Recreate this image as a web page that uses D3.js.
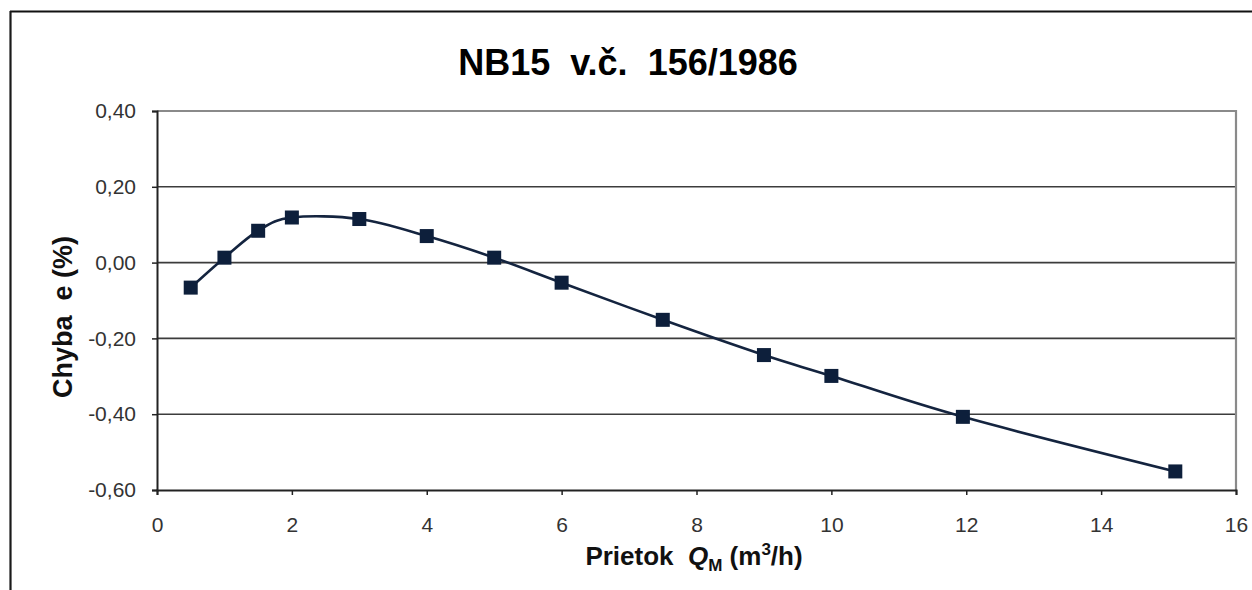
<!DOCTYPE html>
<html lang="sk">
<head>
<meta charset="UTF-8">
<title>NB15 v.č. 156/1986</title>
<script src="https://cdn.jsdelivr.net/npm/d3@7/dist/d3.min.js"></script>
<style>
  body { margin: 0; background: #fff; }
  svg { display: block; font-family: "Liberation Sans", Arial, sans-serif; }
</style>
</head>
<body>
<svg id="graf" width="1252" height="590"></svg>
<script>
    // namerane hodnoty
    let prietok = [0.5, 1.0, 1.5, 2.0, 3.0, 4.0, 5.0, 6.0, 7.5, 9.0, 10.0, 11.95, 15.1];
    let chyba = [-0.066, 0.013, 0.084, 0.119, 0.115, 0.070, 0.013, -0.053, -0.151, -0.244, -0.299, -0.407, -0.551];
    let xTicky = [0, 2, 4, 6, 8, 10, 12, 14, 16];
    let yTicky = [-0.6, -0.4, -0.2, 0, 0.2, 0.4];

    let body = prietok.map((q, i) => ({q: q, e: chyba[i]}));

    let svg = d3.select('#graf');
    let x = d3.scaleLinear().domain([0, 16]).range([157, 1236]);
    let y = d3.scaleLinear().domain([-0.6, 0.4]).range([490, 111]);

    let sk = d3.formatLocale({decimal: ",", thousands: " ", grouping: [3], currency: ["", ""], minus: "-"});
    let fmt = sk.format(".2f");

    // ramik okolo celeho grafu
    svg.append('line').attr('x1', 10).attr('y1', 11.5).attr('x2', 1252).attr('y2', 11.5)
        .attr('stroke', '#111').attr('stroke-width', 2);
    svg.append('line').attr('x1', 10.5).attr('y1', 11).attr('x2', 10.5).attr('y2', 590)
        .attr('stroke', '#1a1a1a').attr('stroke-width', 2.2);

    // mriezka
    svg.append('g').selectAll('line').data(yTicky.filter(d => d > -0.6 && d < 0.4)).enter()
        .append('line')
        .attr('x1', x(0)).attr('x2', x(16))
        .attr('y1', d => y(d)).attr('y2', d => y(d))
        .attr('stroke', '#3c3c3c').attr('stroke-width', 1.6);

    // okraj plochy grafu
    svg.append('path')
        .attr('d', 'M' + x(0) + ',' + y(0.4) + 'H' + x(16) + 'V' + y(-0.6))
        .attr('fill', 'none').attr('stroke', '#8a8a8a').attr('stroke-width', 2.2);

    // osi
    let osY = svg.append('g').attr('transform', 'translate(' + x(0) + ',0)')
        .call(d3.axisLeft(y).tickValues(yTicky).tickFormat(fmt).tickSize(5).tickPadding(16));
    let osX = svg.append('g').attr('transform', 'translate(0,' + y(-0.6) + ')')
        .call(d3.axisBottom(x).tickValues(xTicky).tickSize(5).tickPadding(22));
    [osY, osX].forEach(g => {
        g.select('.domain').attr('stroke', '#222').attr('stroke-width', 2);
        g.selectAll('.tick line').attr('stroke', '#222').attr('stroke-width', 1.5);
        g.selectAll('.tick text').attr('fill', '#333')
            .style('font-size', '21px').style('font-family', '"Liberation Sans", Arial, sans-serif');
    });

    // krivka
    let ciara = d3.line().x(d => x(d.q)).y(d => y(d.e)).curve(d3.curveCatmullRom.alpha(0));
    svg.append('path').datum(body)
        .attr('d', ciara)
        .attr('fill', 'none').attr('stroke', '#14243f').attr('stroke-width', 2.6);

    let s = 14;
    svg.append('g').selectAll('rect').data(body).enter()
        .append('rect')
        .attr('x', d => x(d.q) - s / 2)
        .attr('y', d => y(d.e) - s / 2)
        .attr('width', s).attr('height', s)
        .attr('fill', '#0d1f3b');

    // nadpis
    svg.append('text')
        .attr('x', 628).attr('y', 75)
        .attr('text-anchor', 'middle')
        .style('white-space', 'pre')
        .style('font-size', '36px').style('font-weight', 'bold')
        .attr('fill', '#000')
        .text('NB15  v.č.  156/1986');

    // popis osi x
    let tx = svg.append('text')
        .attr('x', 694).attr('y', 565)
        .attr('text-anchor', 'middle')
        .style('white-space', 'pre')
        .style('font-size', '26px').style('font-weight', 'bold')
        .attr('fill', '#111');
    tx.append('tspan').text('Prietok  ');
    tx.append('tspan').style('font-style', 'italic').text('Q');
    tx.append('tspan').attr('dy', 6).style('font-size', '17px').text('M');
    tx.append('tspan').attr('dy', -6).text(' (m');
    tx.append('tspan').attr('dy', -10).style('font-size', '17px').text('3');
    tx.append('tspan').attr('dy', 10).text('/h)');

    // popis osi y
    svg.append('text')
        .attr('transform', 'translate(72,317) rotate(-90)')
        .attr('text-anchor', 'middle')
        .style('white-space', 'pre')
        .style('font-size', '27px').style('font-weight', 'bold')
        .attr('fill', '#111')
        .text('Chyba  e (%)');
</script>
</body>
</html>
